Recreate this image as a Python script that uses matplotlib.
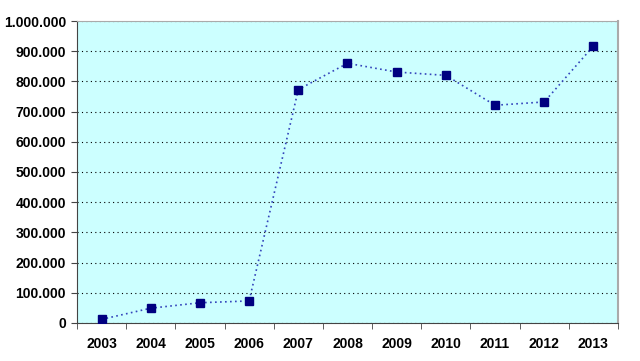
import matplotlib.pyplot as plt
from matplotlib.ticker import FuncFormatter, MultipleLocator

years = ["2003", "2004", "2005", "2006", "2007", "2008", "2009", "2010", "2011", "2012", "2013"]
values = [12000, 49000, 67000, 73000, 773000, 860000, 831000, 820000, 721000, 732000, 917000]

plt.rcParams['font.family'] = ['Liberation Sans', 'DejaVu Sans']

fig = plt.figure(figsize=(6.4, 3.61), dpi=100)
ax = fig.add_axes([0.1203, 0.1053, 0.8453, 0.8365])
ax.set_facecolor("#CCFFFF")

x = list(range(len(years)))
ax.plot(x, values, linestyle=(0, (1, 2)), color="#3344BB", linewidth=1.2,
        marker="s", markersize=5.5, markerfacecolor="#000080",
        markeredgecolor="#000080", zorder=3)

ax.set_xlim(-0.5, len(years) - 0.5)
ax.set_ylim(0, 1000000)
ax.yaxis.set_major_locator(MultipleLocator(100000))
ax.yaxis.set_major_formatter(FuncFormatter(lambda v, p: f"{int(v):,}".replace(",", ".")))
ax.set_xticks(x)
ax.set_xticklabels(years)
ax.set_xticks([i - 0.5 for i in range(len(years) + 1)], minor=True)
ax.tick_params(axis="x", which="major", length=0, pad=10)
ax.tick_params(axis="x", which="minor", length=4, color="#444444", direction="out")
ax.tick_params(axis="y", length=4, color="#444444", pad=4)
for lab in ax.get_xticklabels() + ax.get_yticklabels():
    lab.set_fontweight("bold")
    lab.set_fontsize(10)

ax.grid(axis="y", linestyle=(0, (1, 3)), color="black", linewidth=0.8)
ax.set_axisbelow(True)
ax.spines["left"].set_color("#444444")
ax.spines["bottom"].set_color("#444444")
ax.spines["top"].set_color("#AAAAAA")
ax.spines["right"].set_color("#AAAAAA")
ax.spines["right"].set_linewidth(1.5)

fig.savefig("out.png", dpi=100)
